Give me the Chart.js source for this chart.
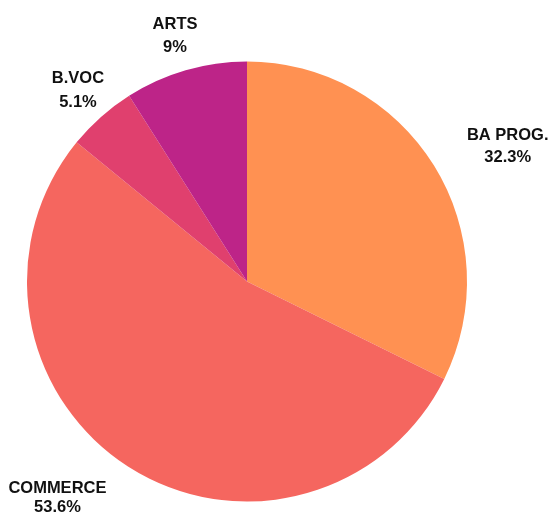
<!DOCTYPE html>
<html>
<head>
<meta charset="utf-8">
<script src="https://cdn.jsdelivr.net/npm/chart.js@4.4.1/dist/chart.umd.min.js"></script>
<style>
  html, body { margin: 0; padding: 0; background: #fff; }
  #wrap { width: 549px; height: 516px; }
</style>
</head>
<body>
<div id="wrap"><canvas id="myChart" width="549" height="516"></canvas></div>
<script>
const categories = ['BA PROG.', 'COMMERCE', 'B.VOC', 'ARTS'];
const shares = [32.3, 53.6, 5.1, 9];
const sliceColors = ['#FF9152', '#F5665F', '#E0406E', '#BD2488'];

// extra push and line gap for the outside labels, by slice
const labelNudge = [
  { dx: 29, dy: 0, gap: 22 },
  { dx: -37.5, dy: 0.7, gap: 19 },
  { dx: 2.3, dy: 0.4, gap: 24 },
  { dx: -1, dy: 0, gap: 23.5 }
];

const outLabels = {
  id: 'outLabels',
  afterDraw(chart) {
    const ctx = chart.ctx;
    const meta = chart.getDatasetMeta(0);
    ctx.save();
    ctx.font = 'bold 16.5px "Liberation Sans", Arial, sans-serif';
    ctx.fillStyle = '#111';
    ctx.textAlign = 'center';
    ctx.textBaseline = 'middle';
    meta.data.forEach((arc, i) => {
      const p = arc.getProps(['x', 'y', 'startAngle', 'endAngle', 'outerRadius'], true);
      const mid = (p.startAngle + p.endAngle) / 2;
      const cx = Math.cos(mid), cy = Math.sin(mid);
      const name = categories[i];
      const pct = shares[i] + '%';
      const hw = Math.max(ctx.measureText(name).width, ctx.measureText(pct).width) / 2;
      const hh = 24;
      const r = p.outerRadius + 12;
      const n = labelNudge[i];
      const x = p.x + r * cx + cx * hw + n.dx;
      const y = p.y + r * cy + cy * hh + n.dy;
      ctx.fillText(name, x, y - n.gap / 2 + 0.5);
      ctx.fillText(pct, x, y + n.gap / 2 + 0.5);
    });
    ctx.restore();
  }
};

new Chart(document.getElementById('myChart').getContext('2d'), {
  type: 'pie',
  data: {
    labels: categories,
    datasets: [{
      data: shares,
      backgroundColor: sliceColors,
      borderWidth: 0,
      hoverOffset: 0
    }]
  },
  options: {
    responsive: false,
    animation: false,
    layout: {
      padding: { top: 61, bottom: 14, left: 27, right: 82 }
    },
    plugins: {
      legend: { display: false },
      tooltip: { enabled: false },
      title: { display: false }
    }
  },
  plugins: [outLabels]
});
</script>
</body>
</html>
